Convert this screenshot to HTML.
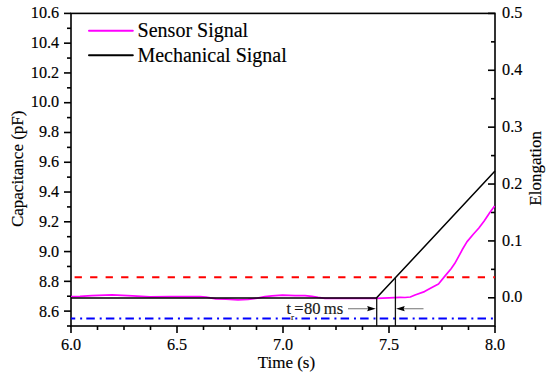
<!DOCTYPE html>
<html><head><meta charset="utf-8"><style>
html,body{margin:0;padding:0;background:#fff;}
body{width:550px;height:377px;overflow:hidden;}
svg{display:block;}
text{font-family:"Liberation Serif",serif;fill:#000;stroke:#000;stroke-width:0.15px;}
.tk{font-size:16.2px;}
.ti{font-size:17px;}
.leg{font-size:20px;}
.ann{font-size:16px;fill:#222;}
</style></head><body>
<svg width="550" height="377" viewBox="0 0 550 377">
<rect width="550" height="377" fill="#fff"/>
<rect x="71.0" y="13.4" width="424.0" height="312.6" fill="none" stroke="#000" stroke-width="1.6"/>
<line x1="67.0" y1="326.00" x2="71.0" y2="326.00" stroke="#000" stroke-width="1.6"/>
<line x1="64.0" y1="311.11" x2="71.0" y2="311.11" stroke="#000" stroke-width="1.6"/>
<text x="59.2" y="316.75" text-anchor="end" class="tk">8.6</text>
<line x1="67.0" y1="296.23" x2="71.0" y2="296.23" stroke="#000" stroke-width="1.6"/>
<line x1="64.0" y1="281.34" x2="71.0" y2="281.34" stroke="#000" stroke-width="1.6"/>
<text x="59.2" y="286.86" text-anchor="end" class="tk">8.8</text>
<line x1="67.0" y1="266.46" x2="71.0" y2="266.46" stroke="#000" stroke-width="1.6"/>
<line x1="64.0" y1="251.57" x2="71.0" y2="251.57" stroke="#000" stroke-width="1.6"/>
<text x="59.2" y="256.96" text-anchor="end" class="tk">9.0</text>
<line x1="67.0" y1="236.69" x2="71.0" y2="236.69" stroke="#000" stroke-width="1.6"/>
<line x1="64.0" y1="221.80" x2="71.0" y2="221.80" stroke="#000" stroke-width="1.6"/>
<text x="59.2" y="227.07" text-anchor="end" class="tk">9.2</text>
<line x1="67.0" y1="206.91" x2="71.0" y2="206.91" stroke="#000" stroke-width="1.6"/>
<line x1="64.0" y1="192.03" x2="71.0" y2="192.03" stroke="#000" stroke-width="1.6"/>
<text x="59.2" y="197.17" text-anchor="end" class="tk">9.4</text>
<line x1="67.0" y1="177.14" x2="71.0" y2="177.14" stroke="#000" stroke-width="1.6"/>
<line x1="64.0" y1="162.26" x2="71.0" y2="162.26" stroke="#000" stroke-width="1.6"/>
<text x="59.2" y="167.28" text-anchor="end" class="tk">9.6</text>
<line x1="67.0" y1="147.37" x2="71.0" y2="147.37" stroke="#000" stroke-width="1.6"/>
<line x1="64.0" y1="132.49" x2="71.0" y2="132.49" stroke="#000" stroke-width="1.6"/>
<text x="59.2" y="137.38" text-anchor="end" class="tk">9.8</text>
<line x1="67.0" y1="117.60" x2="71.0" y2="117.60" stroke="#000" stroke-width="1.6"/>
<line x1="64.0" y1="102.71" x2="71.0" y2="102.71" stroke="#000" stroke-width="1.6"/>
<text x="59.2" y="107.49" text-anchor="end" class="tk">10.0</text>
<line x1="67.0" y1="87.83" x2="71.0" y2="87.83" stroke="#000" stroke-width="1.6"/>
<line x1="64.0" y1="72.94" x2="71.0" y2="72.94" stroke="#000" stroke-width="1.6"/>
<text x="59.2" y="77.59" text-anchor="end" class="tk">10.2</text>
<line x1="67.0" y1="58.06" x2="71.0" y2="58.06" stroke="#000" stroke-width="1.6"/>
<line x1="64.0" y1="43.17" x2="71.0" y2="43.17" stroke="#000" stroke-width="1.6"/>
<text x="59.2" y="47.70" text-anchor="end" class="tk">10.4</text>
<line x1="67.0" y1="28.29" x2="71.0" y2="28.29" stroke="#000" stroke-width="1.6"/>
<line x1="64.0" y1="13.40" x2="71.0" y2="13.40" stroke="#000" stroke-width="1.6"/>
<text x="59.2" y="17.80" text-anchor="end" class="tk">10.6</text>
<line x1="71.00" y1="326.0" x2="71.00" y2="333.0" stroke="#000" stroke-width="1.6"/>
<text x="71.00" y="350" text-anchor="middle" class="tk">6.0</text>
<line x1="97.50" y1="326.0" x2="97.50" y2="330.0" stroke="#000" stroke-width="1.6"/>
<line x1="124.00" y1="326.0" x2="124.00" y2="330.0" stroke="#000" stroke-width="1.6"/>
<line x1="150.50" y1="326.0" x2="150.50" y2="330.0" stroke="#000" stroke-width="1.6"/>
<line x1="177.00" y1="326.0" x2="177.00" y2="333.0" stroke="#000" stroke-width="1.6"/>
<text x="177.00" y="350" text-anchor="middle" class="tk">6.5</text>
<line x1="203.50" y1="326.0" x2="203.50" y2="330.0" stroke="#000" stroke-width="1.6"/>
<line x1="230.00" y1="326.0" x2="230.00" y2="330.0" stroke="#000" stroke-width="1.6"/>
<line x1="256.50" y1="326.0" x2="256.50" y2="330.0" stroke="#000" stroke-width="1.6"/>
<line x1="283.00" y1="326.0" x2="283.00" y2="333.0" stroke="#000" stroke-width="1.6"/>
<text x="283.00" y="350" text-anchor="middle" class="tk">7.0</text>
<line x1="309.50" y1="326.0" x2="309.50" y2="330.0" stroke="#000" stroke-width="1.6"/>
<line x1="336.00" y1="326.0" x2="336.00" y2="330.0" stroke="#000" stroke-width="1.6"/>
<line x1="362.50" y1="326.0" x2="362.50" y2="330.0" stroke="#000" stroke-width="1.6"/>
<line x1="389.00" y1="326.0" x2="389.00" y2="333.0" stroke="#000" stroke-width="1.6"/>
<text x="389.00" y="350" text-anchor="middle" class="tk">7.5</text>
<line x1="415.50" y1="326.0" x2="415.50" y2="330.0" stroke="#000" stroke-width="1.6"/>
<line x1="442.00" y1="326.0" x2="442.00" y2="330.0" stroke="#000" stroke-width="1.6"/>
<line x1="468.50" y1="326.0" x2="468.50" y2="330.0" stroke="#000" stroke-width="1.6"/>
<line x1="495.00" y1="326.0" x2="495.00" y2="333.0" stroke="#000" stroke-width="1.6"/>
<text x="495.00" y="350" text-anchor="middle" class="tk">8.0</text>
<line x1="488.0" y1="297.80" x2="495.0" y2="297.80" stroke="#000" stroke-width="1.6"/>
<text x="502.1" y="302.40" text-anchor="start" class="tk">0.0</text>
<line x1="491.0" y1="269.36" x2="495.0" y2="269.36" stroke="#000" stroke-width="1.6"/>
<line x1="488.0" y1="240.92" x2="495.0" y2="240.92" stroke="#000" stroke-width="1.6"/>
<text x="502.1" y="245.52" text-anchor="start" class="tk">0.1</text>
<line x1="491.0" y1="212.48" x2="495.0" y2="212.48" stroke="#000" stroke-width="1.6"/>
<line x1="488.0" y1="184.04" x2="495.0" y2="184.04" stroke="#000" stroke-width="1.6"/>
<text x="502.1" y="188.64" text-anchor="start" class="tk">0.2</text>
<line x1="491.0" y1="155.60" x2="495.0" y2="155.60" stroke="#000" stroke-width="1.6"/>
<line x1="488.0" y1="127.16" x2="495.0" y2="127.16" stroke="#000" stroke-width="1.6"/>
<text x="502.1" y="131.76" text-anchor="start" class="tk">0.3</text>
<line x1="491.0" y1="98.72" x2="495.0" y2="98.72" stroke="#000" stroke-width="1.6"/>
<line x1="488.0" y1="70.28" x2="495.0" y2="70.28" stroke="#000" stroke-width="1.6"/>
<text x="502.1" y="74.88" text-anchor="start" class="tk">0.4</text>
<line x1="491.0" y1="41.84" x2="495.0" y2="41.84" stroke="#000" stroke-width="1.6"/>
<line x1="488.0" y1="13.40" x2="495.0" y2="13.40" stroke="#000" stroke-width="1.6"/>
<text x="502.1" y="18.00" text-anchor="start" class="tk">0.5</text>
<line x1="71.0" y1="277.3" x2="495.0" y2="277.3" stroke="#ff0000" stroke-width="2" stroke-dasharray="7.3 8.204" stroke-dashoffset="11.9"/>
<line x1="71.0" y1="318.4" x2="495.0" y2="318.4" stroke="#0000ff" stroke-width="2" stroke-dasharray="8.5 4.9 2 4.16" stroke-dashoffset="4.26"/>
<path d="M71,296.6 L80,296.3 L91.8,295.6 L112,294.9 L132.5,295.9 L150,296.8 L170,296.6 L200,296.6 L206,297.0 L210.3,297.9 L216,298.8 L226,299.2 L238,299.9 L248,299.4 L257.4,298.1 L265,296.6 L272,295.9 L282.4,295.2 L295,295.6 L305,295.7 L312,296.4 L318,297.4 L325,298.3 L340,298.4 L376,298.3 L389,297.9 L400,297.4 L405,297.5 L410.3,297.0 L415,295.0 L424.5,291.6 L430.9,288.1 L438.5,284.0 L445.1,275.9 L451.1,268.7 L454.7,263.6 L458.7,256.4 L462.2,249.8 L466.9,241.9 L473.3,234.3 L478.9,228 L484,221.2 L489.5,213.1 L494.6,206" fill="none" stroke="#ff00ff" stroke-width="1.7" stroke-linejoin="round"/>
<path d="M71.0,298.1 L376.4,298.1 L495.0,171.0" fill="none" stroke="#000" stroke-width="1.5"/>
<line x1="376.7" y1="298" x2="376.7" y2="326.0" stroke="#111" stroke-width="1.3"/>
<line x1="395.4" y1="277.5" x2="395.4" y2="326.0" stroke="#111" stroke-width="1.3"/>
<line x1="348" y1="308.7" x2="368" y2="308.7" stroke="#8a8a8a" stroke-width="1.2"/>
<path d="M375.8,308.7 L367.2,306.1 L368.2,308.7 L367.2,311.3 Z" fill="#000"/>
<line x1="404" y1="308.7" x2="423.5" y2="308.7" stroke="#8a8a8a" stroke-width="1.2"/>
<path d="M396.1,308.7 L404.7,306.1 L403.7,308.7 L404.7,311.3 Z" fill="#000"/>
<text x="286.5" y="313.6" class="ann">t</text>
<text x="291" y="320" class="ann" style="font-size:9px">r</text>
<text x="294.3" y="313.6" class="ann" textLength="9.2" lengthAdjust="spacingAndGlyphs">=</text>
<text x="304.0" y="313.6" class="ann" textLength="16.6" lengthAdjust="spacingAndGlyphs">80</text>
<text x="323.8" y="313.6" class="ann" textLength="19.4" lengthAdjust="spacingAndGlyphs">ms</text>
<line x1="89" y1="30.8" x2="132.8" y2="30.8" stroke="#ff00ff" stroke-width="2" stroke-linecap="round"/>
<line x1="89" y1="55.3" x2="132.8" y2="55.3" stroke="#000" stroke-width="2" stroke-linecap="round"/>
<text x="137.6" y="37.3" class="leg">Sensor Signal</text>
<text x="137.4" y="61.8" class="leg">Mechanical Signal</text>
<text x="286.4" y="367.5" text-anchor="middle" class="ti">Time (s)</text>
<text transform="translate(22.5,168.8) rotate(-90)" text-anchor="middle" class="ti">Capacitance (pF)</text>
<text transform="translate(540.5,168.4) rotate(-90)" text-anchor="middle" class="ti">Elongation</text>
</svg>
</body></html>
